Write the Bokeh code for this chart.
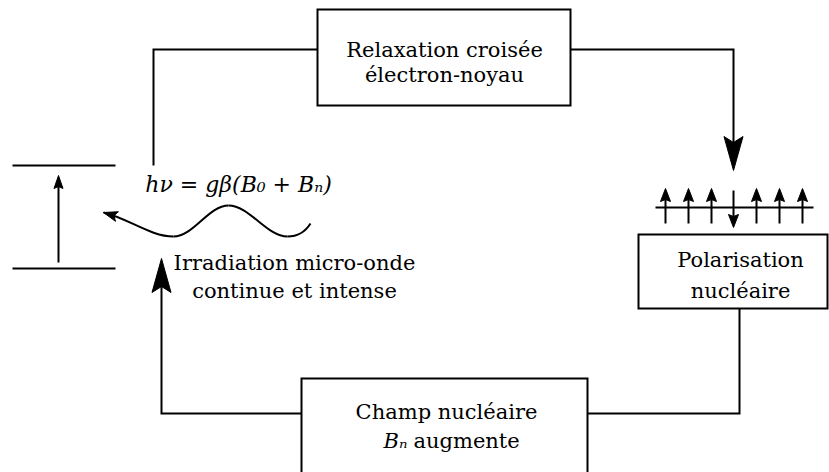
import math
from bokeh.plotting import figure
from bokeh.models import Range1d, ColumnDataSource
from bokeh.core.properties import value
from bokeh.embed import file_html
from bokeh.resources import INLINE

FONT = "DejaVu Serif"
FS = "21px"

# ---- diagram content (pixel-space coordinates of the reference) ----
# boxes: left, right, top, bottom
box_left = [317, 638, 301]
box_right = [570, 827, 587]
box_top = [9, 234, 378]
box_bottom = [105, 308, 490]

# connector paths
path_xs = [[153, 153, 317], [570, 733, 733], [739, 739, 587], [301, 161, 161]]
path_ys = [[165, 49, 49], [49, 49, 160], [308, 413, 413], [413, 413, 268]]

# energy levels and transition arrow
level_xs = [[12, 115], [12, 115], [58, 58]]
level_ys = [[165, 165], [268, 268], [262, 182]]

# spins
spin_line_x = [655, 813]
spin_line_y = [207, 207]
spin_x = [665, 688, 711, 733, 756, 779, 802]
spin_dir = [1, 1, 1, -1, 1, 1, 1]     # 1 = up, -1 = down

# arrow heads: tip x, tip y, dir x, dir y, length, width, notch
heads = [
    (733, 170, 0, 1, 34, 19, 6),
    (161, 258, 0, -1, 34, 19, 6),
    (58, 175, 0, -1, 13, 9, 2),
    (103, 212, -1, -0.3, 14, 10, 3),
]

# wave (cubic bezier segments)
wave_x0 = [103, 173, 228, 287]
wave_y0 = [212, 236, 205, 236]
wave_x1 = [173, 228, 287, 310]
wave_y1 = [236, 205, 236, 223]
wave_cx0 = [128, 193, 249, 297]
wave_cy0 = [218, 236, 205, 236]
wave_cx1 = [150, 208, 266, 305]
wave_cy1 = [236, 205, 236, 231]

# labels
label_text = ["Relaxation croisée", "électron-noyau", "Polarisation", "nucléaire",
              "Champ nucléaire", "Irradiation micro-onde", "continue et intense"]
label_x = [444, 444, 740, 740, 446, 294, 294]
label_y = [49, 74, 259, 290, 411, 262, 290]

p = figure(width=829, height=472, x_range=Range1d(0, 829), y_range=Range1d(472, 0),
           output_backend="svg", toolbar_location=None, min_border=0)
p.axis.visible = False
p.grid.visible = False
p.outline_line_color = None
p.background_fill_color = "white"
p.border_fill_color = "white"

p.quad(left=box_left, right=box_right, top=box_top, bottom=box_bottom,
       fill_color="white", line_color="black", line_width=2, line_join="miter")

p.multi_line(xs=path_xs, ys=path_ys, line_color="black", line_width=2, line_join="miter")
p.multi_line(xs=level_xs, ys=level_ys, line_color="black", line_width=2)

p.line(spin_line_x, spin_line_y, line_color="black", line_width=2)
sx, sy = [], []
hx, hy = [], []
for x, d in zip(spin_x, spin_dir):
    if d > 0:
        sx.append([x, x]); sy.append([223, 196])
        heads.append((x, 188, 0, -1, 13, 10, 2))
    else:
        sx.append([x, x]); sy.append([190, 219])
        heads.append((x, 227, 0, 1, 13, 10, 2))
p.multi_line(xs=sx, ys=sy, line_color="black", line_width=2)

p.bezier(x0=wave_x0, y0=wave_y0, x1=wave_x1, y1=wave_y1,
         cx0=wave_cx0, cy0=wave_cy0, cx1=wave_cx1, cy1=wave_cy1,
         line_color="black", line_width=2)

for (tx, ty, dx, dy, L, W, N) in heads:
    n = math.hypot(dx, dy)
    ux, uy = dx / n, dy / n
    px, py = -uy, ux
    bx, by = tx - ux * L, ty - uy * L
    nx, ny = tx - ux * (L - N), ty - uy * (L - N)
    hx.append([tx, bx + px * W / 2, nx, bx - px * W / 2])
    hy.append([ty, by + py * W / 2, ny, by - py * W / 2])
p.patches(xs=hx, ys=hy, fill_color="black", line_color="black", line_width=1)

src = ColumnDataSource(dict(x=label_x, y=label_y, t=label_text))
p.text(x="x", y="y", text="t", source=src, text_font=value(FONT), text_font_size=FS,
       text_align="center", text_baseline="middle", text_color="black")

p.text(x=[238], y=[184], text=["hν = gβ(B₀ + Bₙ)"], text_font=value(FONT),
       text_font_size="22px", text_font_style="italic", text_align="center",
       text_baseline="middle", text_color="black")
p.text(x=[407], y=[440], text=["Bₙ"], text_font=value(FONT), text_font_size=FS,
       text_font_style="italic", text_align="right", text_baseline="middle",
       text_color="black")
p.text(x=[413], y=[440], text=["augmente"], text_font=value(FONT), text_font_size=FS,
       text_align="left", text_baseline="middle", text_color="black")

open("out.html", "w").write(file_html(p, INLINE))
